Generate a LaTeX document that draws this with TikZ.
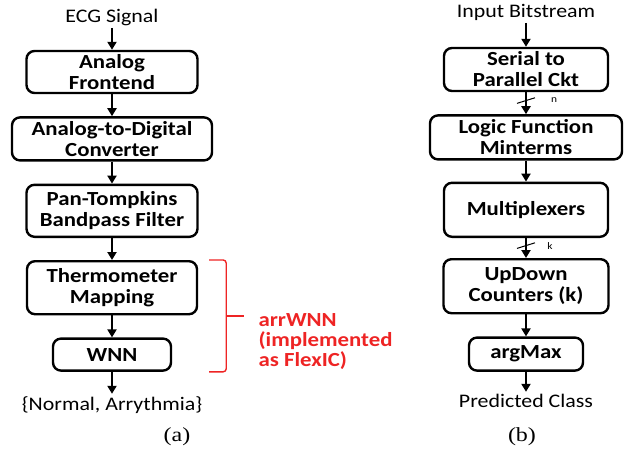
\documentclass[tikz,border=0pt]{standalone}
\usepackage{fontspec}
\setmainfont{Carlito}[FakeStretch=1.14]
\newfontfamily\capfont{Liberation Serif}[FakeStretch=1.2]
\usetikzlibrary{positioning, arrows.meta, calc}
\definecolor{flexred}{RGB}{238,36,36}

\begin{document}
\begin{tikzpicture}[node distance=11pt,
    block/.style={draw, line width=1.2pt, rounded corners=4pt, align=center, inner sep=0pt,
      font=\bfseries\fontsize{10}{10.5}\selectfont},
    io/.style={inner sep=1pt, font=\fontsize{9.6}{10}\selectfont},
    flow/.style={-{Triangle[width=4.5pt,length=4pt]}, line width=1pt},
    bus/.style={line width=0.5pt},
    buslabel/.style={inner sep=0pt, font=\fontsize{5}{5}\selectfont},
    brace/.style={draw=flexred, line width=0.7pt, rounded corners=1.5pt},
    note/.style={text=flexred, align=left, inner sep=0pt, font=\bfseries\fontsize{10}{10}\selectfont},
    caption/.style={font=\capfont\fontsize{10}{11}\selectfont}]
  \useasboundingbox (0,0) rectangle (319.5pt,-225pt);

  % (a) ECG classifier
  \node[block, minimum width=85.5pt, minimum height=21pt] (afe) at (56pt,-36pt) {Analog\\Frontend};
  \node[io] (ecg) [above=11pt of afe] {ECG Signal};
  \node[block, minimum width=100pt, minimum height=21.5pt] (adc) [below=of afe] {Analog-to-Digital\\Converter};
  \node[block, minimum width=85.5pt, minimum height=26pt] (ptf) [below=of adc] {Pan-Tompkins\\Bandpass Filter};
  \node[block, minimum width=85pt, minimum height=26.5pt] (therm) [below=of ptf] {Thermometer\\Mapping};
  \node[block, minimum width=59pt, minimum height=16pt] (wnn) [below=of therm] {WNN};
  \node[io] (cls) [below=11pt of wnn] {\{Normal, Arrythmia\}};
  \draw[flow] (ecg) -- (afe);
  \draw[flow] (afe) -- (adc);
  \draw[flow] (adc) -- (ptf);
  \draw[flow] (ptf) -- (therm);
  \draw[flow] (therm) -- (wnn);
  \draw[flow] (wnn) -- (cls);

  \coordinate (btop) at ([xshift=5.5pt]therm.north east);
  \coordinate (bbot) at (btop |- wnn.south);
  \draw[brace] (btop) -- ++(8.5pt,0) coordinate (bv) |- (bbot);
  \coordinate (bend) at (bv |- bbot);
  \draw[brace] ($(bv)!0.5!(bend)$) -- ++(9pt,0) coordinate (btip);
  \node[note, anchor=north west] (flex) at ([xshift=7pt,yshift=1.5pt]btip) {arrWNN\\(implemented\\as FlexIC)};

  % (b) WNN datapath
  \node[block, minimum width=82pt, minimum height=21.5pt] (sp) at (263pt,-34.75pt) {Serial to\\Parallel Ckt};
  \node[io] (bits) [above=12pt of sp] {Input Bitstream};
  \node[block, minimum width=96pt, minimum height=22pt] (lf) [below=of sp] {Logic Function\\Minterms};
  \node[block, minimum width=82pt, minimum height=27pt] (mux) [below=10.5pt of lf] {Multiplexers};
  \node[block, minimum width=82.5pt, minimum height=27pt] (ud) [below=10pt of mux] {UpDown\\Counters (k)};
  \node[block, minimum width=57pt, minimum height=16.5pt] (am) [below=of ud] {argMax};
  \node[io] (pred) [below=10pt of am] {Predicted Class};
  \draw[flow] (bits) -- (sp);
  \draw[flow] (sp) -- coordinate[pos=0.38] (nbus) (lf);
  \draw[flow] (lf) -- (mux);
  \draw[flow] (mux) -- coordinate[pos=0.38] (kbus) (ud);
  \draw[flow] (ud) -- (am);
  \draw[flow] (am) -- (pred);
  \draw[bus] ([shift={(-4.5pt,-1.4pt)}]nbus) -- ([shift={(4.5pt,1.4pt)}]nbus);
  \node[buslabel] (nlbl) at ([xshift=14pt]nbus) {n};
  \draw[bus] ([shift={(-4.5pt,-1.4pt)}]kbus) -- ([shift={(4.5pt,1.4pt)}]kbus);
  \node[buslabel] (klbl) at ([xshift=12pt]kbus) {k};

  \node[caption] (capa) at (88.5pt,-218.5pt) {(a)};
  \node[caption] (capb) at (261pt,-218.5pt) {(b)};
\end{tikzpicture}
\end{document}
